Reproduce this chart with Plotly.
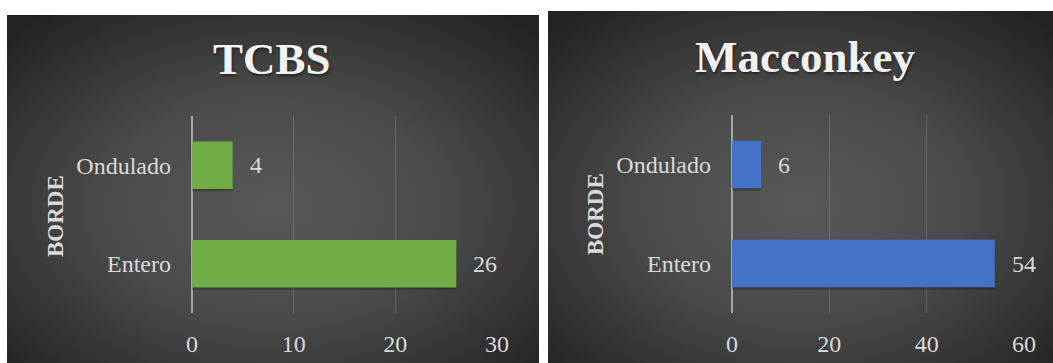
import base64
import plotly.graph_objects as go

# Data
categories = ["Entero", "Ondulado"]
tcbs_values = [26, 4]
macconkey_values = [54, 6]
tcbs_ticks = [0, 10, 20, 30]
macconkey_ticks = [0, 20, 40, 60]
axis_title = "BORDE"
titles = ["TCBS", "Macconkey"]

W, H = 1053, 363
FONT = "Liberation Serif"
TEXT = "#d9d9d9"


def px_x(v):
    return v / W


def px_y(v):
    return 1 - v / H


def radial_bg(w, h):
    svg = (
        f'<svg xmlns="http://www.w3.org/2000/svg" width="{w}" height="{h}" '
        f'viewBox="0 0 {w} {h}" preserveAspectRatio="none">'
        '<defs><radialGradient id="g" cx="50%" cy="55%" r="70%">'
        '<stop offset="0" stop-color="#585858"/>'
        '<stop offset="0.45" stop-color="#4b4b4b"/>'
        '<stop offset="1" stop-color="#232323"/>'
        '</radialGradient></defs>'
        f'<rect width="{w}" height="{h}" fill="url(#g)"/></svg>'
    )
    return "data:image/svg+xml;base64," + base64.b64encode(svg.encode()).decode()


panels = [
    dict(values=tcbs_values, ticks=tcbs_ticks, color="#70AD47",
         box=(7, 15, 539, 363), plot=(192, 116, 497, 313),
         title_xy=(272, 59), ytitle_xy=(55, 216), label_shift=15),
    dict(values=macconkey_values, ticks=macconkey_ticks, color="#4472C4",
         box=(548, 11, 1053, 363), plot=(732, 115, 1024, 313),
         title_xy=(805, 57), ytitle_xy=(595, 214), label_shift=15),
]

fig = go.Figure()
images, annotations = [], []
layout_axes = {}

for i, p in enumerate(panels):
    n = "" if i == 0 else str(i + 1)
    xa, ya = "x" + n, "y" + n
    x0, y0, x1, y1 = p["box"]
    images.append(dict(
        source=radial_bg(x1 - x0, y1 - y0), xref="paper", yref="paper",
        x=px_x(x0), y=px_y(y0), sizex=(x1 - x0) / W, sizey=(y1 - y0) / H,
        xanchor="left", yanchor="top", sizing="stretch", layer="below"))

    # soft shadow under each bar
    fig.add_trace(go.Bar(
        x=p["values"], y=categories, orientation="h", width=0.48, offset=-0.265,
        marker=dict(color="rgba(0,0,0,0.25)", line=dict(width=0)),
        xaxis=xa, yaxis=ya, hoverinfo="skip", showlegend=False))
    fig.add_trace(go.Bar(
        x=p["values"], y=categories, orientation="h", width=0.48,
        marker=dict(color=p["color"], line=dict(width=0)),
        xaxis=xa, yaxis=ya, showlegend=False))

    for cat, val in zip(categories, p["values"]):
        annotations.append(dict(
            x=val, y=cat, xref=xa, yref=ya, text=str(val), showarrow=False,
            xanchor="left", xshift=p["label_shift"],
            font=dict(family=FONT, size=24, color=TEXT)))

    tx, ty = p["title_xy"]
    annotations.append(dict(
        x=px_x(tx), y=px_y(ty), xref="paper", yref="paper", text=titles[i],
        showarrow=False, xanchor="center", yanchor="middle",
        font=dict(family=FONT, size=45, color="#f2f2f2", weight="bold",
                  shadow="1px 2px 3px rgba(0,0,0,0.45)")))
    bx, by = p["ytitle_xy"]
    annotations.append(dict(
        x=px_x(bx), y=px_y(by), xref="paper", yref="paper", text=axis_title,
        showarrow=False, textangle=-90, xanchor="center", yanchor="middle",
        font=dict(family=FONT, size=23, color=TEXT, weight="bold")))

    px0, py0, px1, py1 = p["plot"]
    layout_axes["xaxis" + n] = dict(
        domain=[px_x(px0), px_x(px1)], anchor=ya, automargin=False,
        range=[0, p["ticks"][-1]], tickvals=p["ticks"],
        showgrid=True, gridcolor="rgba(255,255,255,0.16)", gridwidth=1,
        zeroline=True, zerolinecolor="#a6a6a6", zerolinewidth=2,
        showline=False, ticks="", ticklabelstandoff=14,
        tickfont=dict(family=FONT, size=24, color=TEXT), fixedrange=True)
    layout_axes["yaxis" + n] = dict(
        domain=[px_y(py1), px_y(py0)], anchor=xa, automargin=False,
        categoryorder="array", categoryarray=categories,
        range=[-0.5, 1.5], showgrid=False, zeroline=False, showline=False,
        ticks="", ticklabelstandoff=20,
        tickfont=dict(family=FONT, size=24, color=TEXT), fixedrange=True)

fig.update_layout(
    width=W, height=H, margin=dict(l=0, r=0, t=0, b=0, autoexpand=False),
    paper_bgcolor="white", plot_bgcolor="rgba(0,0,0,0)",
    barmode="overlay", images=images, annotations=annotations,
    **layout_axes)

fig.write_html("out.html", config={"displayModeBar": False})
